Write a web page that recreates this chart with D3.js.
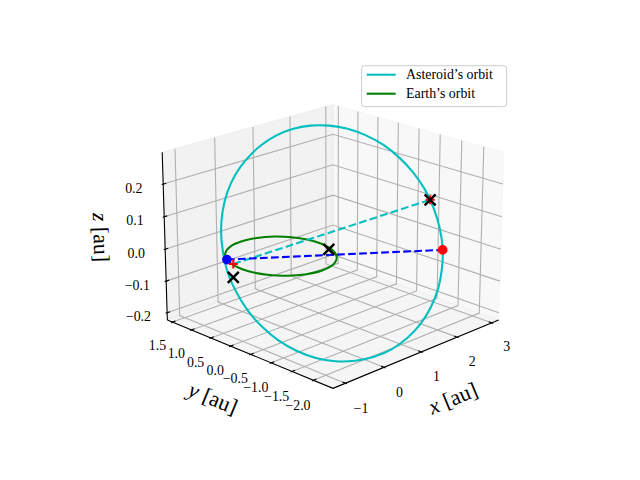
<!DOCTYPE html>
<html><head><meta charset="utf-8">
<script src="https://cdn.jsdelivr.net/npm/d3@7"></script>
<style>body{margin:0;background:#fff}</style>
</head><body><svg id="chart" width="640" height="480"></svg>
<script>
// Axis limits and ticks (au)
const xLim = [-1.315, 3.205], yLim = [-2.447, 1.638], zLim = [-0.223, 0.296];
const xTicks = [-1, 0, 1, 2, 3];
const yTicks = [-2, -1.5, -1, -0.5, 0, 0.5, 1, 1.5];
const zTicks = [-0.2, -0.1, 0, 0.1, 0.2];

// Asteroid's orbit, sampled points (au)
const asteroidX = [-0.95,-1.04,-1.07,-1.04,-0.95,-0.80,-0.60,-0.36,-0.07,0.24,0.58,0.93,1.27,1.61,1.93,2.21,2.46,2.66,
                   2.81,2.90,2.93,2.90,2.81,2.66,2.46,2.22,1.93,1.62,1.28,0.93,0.59,0.25,-0.07,-0.35,-0.60,-0.80];
const asteroidY = [0.41,0.11,-0.20,-0.51,-0.82,-1.12,-1.40,-1.64,-1.85,-2.01,-2.13,-2.19,-2.20,-2.15,-2.05,-1.90,-1.71,-1.47,
                   -1.20,-0.91,-0.60,-0.29,0.02,0.32,0.60,0.84,1.05,1.22,1.33,1.39,1.40,1.36,1.26,1.11,0.91,0.67];
const asteroidZ = [-0.030,-0.073,-0.114,-0.149,-0.180,-0.204,-0.221,-0.230,-0.231,-0.225,-0.211,-0.189,-0.161,-0.127,-0.088,-0.046,-0.001,0.044,
                   0.089,0.133,0.173,0.208,0.239,0.263,0.280,0.289,0.291,0.284,0.270,0.248,0.220,0.186,0.147,0.105,0.061,0.015];

// Earth's orbit, sampled points (au), z = 0
const earthX = [1,0.985,0.940,0.866,0.766,0.643,0.5,0.342,0.174,0,-0.174,-0.342,-0.5,-0.643,-0.766,-0.866,-0.940,-0.985,
                -1,-0.985,-0.940,-0.866,-0.766,-0.643,-0.5,-0.342,-0.174,0,0.174,0.342,0.5,0.643,0.766,0.866,0.940,0.985];
const earthY = [0,0.174,0.342,0.5,0.643,0.766,0.866,0.940,0.985,1,0.985,0.940,0.866,0.766,0.643,0.5,0.342,0.174,
                0,-0.174,-0.342,-0.5,-0.643,-0.766,-0.866,-0.940,-0.985,-1,-0.985,-0.940,-0.866,-0.766,-0.643,-0.5,-0.342,-0.174];

// Marked positions (au)
const earthPos = [-0.861, 0.509, 0];
const asteroidPos = [2.445, -1.721, -0.004];
const plusPts = [[-0.934, 0.276, 0], [2.853, -1.078, 0.109]];
const crossPts = [[-1.398, -0.184, 0], [0.884, -0.358, 0], [2.853, -1.078, 0.109]];

const legendItems = [['Asteroid\u2019s orbit', '#00bfbf'], ['Earth\u2019s orbit', '#008000']];

const asteroidOrbit = asteroidX.map((x, i) => [x, asteroidY[i], asteroidZ[i]]);
const earthOrbit = earthX.map((x, i) => [x, earthY[i], 0]);

// --- 3D projection (elev 20, azim -135, perspective) ---
const rad = Math.PI / 180;
const asp = [4, 4, 3].map(v => v * 1.8294640721620434 * 25 / 24 / Math.hypot(4, 4, 3));
const elev = 20 * rad, azim = -135 * rad, dist = 10;
const bx = d3.scaleLinear().domain(xLim).range([-asp[0] / 2, asp[0] / 2]);
const by = d3.scaleLinear().domain(yLim).range([-asp[1] / 2, asp[1] / 2]);
const bz = d3.scaleLinear().domain(zLim).range([-asp[2] / 2, asp[2] / 2]);
const U = [-Math.sin(azim), Math.cos(azim), 0];
const V = [-Math.sin(elev) * Math.cos(azim), -Math.sin(elev) * Math.sin(azim), Math.cos(elev)];
const W = [Math.cos(elev) * Math.cos(azim), Math.cos(elev) * Math.sin(azim), Math.sin(elev)];
const dot = (a, b) => a[0] * b[0] + a[1] * b[1] + a[2] * b[2];
const sx = d3.scaleLinear().domain([-0.095, 0.09]).range([143.2, 512.8]);
const sy = d3.scaleLinear().domain([-0.095, 0.09]).range([427.2, 57.6]);
function P(p) {
  const b = [bx(p[0]), by(p[1]), bz(p[2])];
  const d = dist - dot(W, b);
  return [sx(dot(U, b) / d), sy(dot(V, b) / d)];
}

const svg = d3.select('#chart');
const font = "'Liberation Serif', 'Times New Roman', serif";
const line = d3.line();
const [x0, x1] = xLim, [y0, y1] = yLim, [z0, z1] = zLim;
const poly = pts => 'M' + pts.map(p => P(p).join(',')).join('L') + 'Z';
const fmt = d => d3.format('.1f')(d).replace('-', '\u2212');
const fmtX = d => String(d).replace('-', '\u2212');

// Panes: x = xmax wall, y = ymax wall, z = zmin floor
const panes = [
  { pts: [[x1,y0,z0],[x1,y1,z0],[x1,y1,z1],[x1,y0,z1]], color: '#f2f2f2' },
  { pts: [[x0,y1,z0],[x1,y1,z0],[x1,y1,z1],[x0,y1,z1]], color: '#e6e6e6' },
  { pts: [[x0,y0,z0],[x1,y0,z0],[x1,y1,z0],[x0,y1,z0]], color: '#ececec' }
];
panes.forEach(pn => {
  svg.append('path').attr('d', poly(pn.pts))
    .attr('fill', pn.color).attr('fill-opacity', 0.5)
    .attr('stroke', pn.color).attr('stroke-opacity', 0.5);
});

// Grid lines
const grid = svg.append('g').attr('fill', 'none').attr('stroke', '#b0b0b0').attr('stroke-width', 1.1);
xTicks.forEach(t => grid.append('path').attr('d', line([[t,y0,z0],[t,y1,z0],[t,y1,z1]].map(P))));
yTicks.forEach(t => grid.append('path').attr('d', line([[x1,t,z1],[x1,t,z0],[x0,t,z0]].map(P))));
zTicks.forEach(t => grid.append('path').attr('d', line([[x0,y1,t],[x1,y1,t],[x1,y0,t]].map(P))));

// Axis lines + tick marks
const dl = [(x1 - x0) / 12, (y1 - y0) / 12, (z1 - z0) / 12];
const ax = svg.append('g').attr('fill', 'none').attr('stroke', '#000').attr('stroke-width', 1.1);
ax.append('path').attr('d', line([[x0,y0,z0],[x1,y0,z0]].map(P)));
ax.append('path').attr('d', line([[x0,y1,z0],[x0,y0,z0]].map(P)));
ax.append('path').attr('d', line([[x0,y1,z0],[x0,y1,z1]].map(P)));
xTicks.forEach(t => ax.append('path').attr('d', line([[t,y0-0.1*dl[1],z0],[t,y0+0.2*dl[1],z0]].map(P))));
yTicks.forEach(t => ax.append('path').attr('d', line([[x0-0.1*dl[0],t,z0],[x0+0.2*dl[0],t,z0]].map(P))));
zTicks.forEach(t => ax.append('path').attr('d', line([[x0-0.1*dl[0],y1,t],[x0+0.2*dl[0],y1,t]].map(P))));

// Tick labels
const lf = (3.5 + 8) * 48 / 532.2, af = (4 + 21) * 48 / 532.2;
const tl = svg.append('g').attr('font-family', font).attr('font-size', '13.9px')
  .attr('text-anchor', 'middle').attr('fill', '#000');
const addTick = (p, s) => {
  const q = P(p);
  tl.append('text').attr('x', q[0]).attr('y', q[1] + 4).attr('dominant-baseline', 'central').text(s);
};
xTicks.forEach(t => addTick([t, y0 - lf*dl[1], z0 - lf*dl[2]], fmtX(t)));
yTicks.forEach(t => addTick([x0 - lf*dl[0], t, z0 - lf*dl[2]], fmt(t)));
zTicks.forEach(t => addTick([x0 - lf*dl[0], y1 + lf*dl[1], t], fmt(t)));

// Axis labels, rotated along their axis
function axLabel(p, a, b, name) {
  const q = P(p), pa = P(a), pb = P(b);
  const ang = Math.atan2(pb[1] - pa[1], pb[0] - pa[0]) * 180 / Math.PI;
  const t = svg.append('text')
    .attr('transform', `translate(${q[0]},${q[1]}) rotate(${ang})`)
    .attr('font-family', font).attr('font-size', '22px')
    .attr('text-anchor', 'middle').attr('dominant-baseline', 'central');
  t.append('tspan').attr('font-style', 'italic').text(name);
  t.append('tspan').text(' [au]');
}
axLabel([(x0+x1)/2, y0 - af*dl[1], z0 - af*dl[2]], [x0,y0,z0], [x1,y0,z0], 'x');
axLabel([x0 - af*dl[0], (y0+y1)/2, z0 - af*dl[2]], [x0,y1,z0], [x0,y0,z0], 'y');
axLabel([x0 - af*dl[0], y1 + af*dl[1], (z0+z1)/2], [x0,y1,z1], [x0,y1,z0], 'z');

// Orbits
const closed = d3.line().curve(d3.curveCatmullRomClosed);
svg.append('path').attr('d', closed(asteroidOrbit.map(P)))
  .attr('fill', 'none').attr('stroke', '#00bfbf').attr('stroke-width', 2.08);
svg.append('path').attr('d', closed(earthOrbit.map(P)))
  .attr('fill', 'none').attr('stroke', '#008000').attr('stroke-width', 2.08);

// Dashed lines
svg.append('path').attr('d', line([plusPts[0], crossPts[2]].map(P)))
  .attr('fill', 'none').attr('stroke', '#00bfbf').attr('stroke-width', 2.08).attr('stroke-dasharray', '7.7,3.33');
svg.append('path').attr('d', line([earthPos, asteroidPos].map(P)))
  .attr('fill', 'none').attr('stroke', '#0000ff').attr('stroke-width', 2.08).attr('stroke-dasharray', '7.7,3.33');

// Markers
const dotM = (p, c) => {
  const q = P(p);
  svg.append('circle').attr('cx', q[0]).attr('cy', q[1]).attr('r', 4.17)
    .attr('fill', c).attr('stroke', c).attr('stroke-width', 1.39);
};
dotM(asteroidPos, '#ff0000');
dotM(earthPos, '#0000ff');
plusPts.forEach(p => {
  const q = P(p), h = 4.5;
  svg.append('path').attr('d', `M${q[0]-h},${q[1]}H${q[0]+h}M${q[0]},${q[1]-h}V${q[1]+h}`)
    .attr('stroke', '#ff0000').attr('stroke-width', 2);
});
crossPts.forEach(p => {
  const q = P(p), h = 5.5;
  svg.append('path').attr('d', `M${q[0]-h},${q[1]-h}L${q[0]+h},${q[1]+h}M${q[0]-h},${q[1]+h}L${q[0]+h},${q[1]-h}`)
    .attr('stroke', '#000').attr('stroke-width', 2.4);
});

// Legend
const lg = svg.append('g').attr('font-family', font).attr('font-size', '13.9px');
lg.append('rect').attr('x', 361.7).attr('y', 65.7).attr('width', 145).attr('height', 41).attr('rx', 2.8)
  .attr('fill', '#fff').attr('fill-opacity', 0.8).attr('stroke', '#cccccc').attr('stroke-width', 1);
legendItems.forEach(([s, c], i) => {
  const y = 74.7 + 19 * i;
  lg.append('line').attr('x1', 366.7).attr('x2', 395.7).attr('y1', y).attr('y2', y)
    .attr('stroke', c).attr('stroke-width', 2.08);
  lg.append('text').attr('x', 406).attr('y', y).attr('dominant-baseline', 'central').text(s);
});
</script></body></html>
